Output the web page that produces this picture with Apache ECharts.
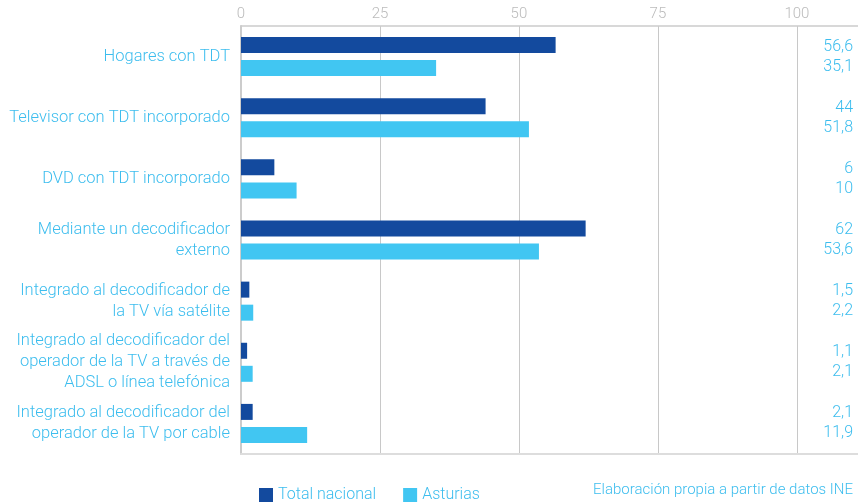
<!DOCTYPE html>
<html>
<head>
<meta charset="utf-8">
<script src="https://cdn.jsdelivr.net/npm/echarts@6/dist/echarts.min.js"></script>
<style>
  html, body { margin: 0; padding: 0; background: #fff; }
  #chart { width: 858px; height: 504px; }
</style>
</head>
<body>
<div id="chart"></div>
<script>
var categories = [
  'Hogares con TDT',
  'Televisor con TDT incorporado',
  'DVD con TDT incorporado',
  'Mediante un decodificador\nexterno',
  'Integrado al decodificador de\nla TV vía satélite',
  'Integrado al decodificador del\noperador de la TV a través de\nADSL o línea telefónica',
  'Integrado al decodificador del\noperador de la TV por cable'
];
var totalNacional = [56.6, 44, 6, 62, 1.5, 1.1, 2.1];
var asturias = [35.1, 51.8, 10, 53.6, 2.2, 2.1, 11.9];
var xTicks = [0, 25, 50, 75, 100];

var darkBlue = '#134a9e';
var lightBlue = '#41c6f2';
var textBlue = '#3cbdee';
var font = 'Roboto, sans-serif';

function fmt(v) {
  return String(v).replace('.', ',');
}
var valueLabels = categories.map(function (c, i) {
  return fmt(totalNacional[i]) + '\n' + fmt(asturias[i]);
});

var chart = echarts.init(document.getElementById('chart'));
var option = {
  animation: false,
  grid: { left: 241, right: 0, top: 26, bottom: 50, outerBoundsMode: 'none' },
  legend: {
    left: 254,
    top: 482,
    itemWidth: 14,
    itemHeight: 14,
    itemGap: 27,
    icon: 'rect',
    textStyle: { color: textBlue, fontSize: 16, fontWeight: 300, fontFamily: font },
    data: ['Total nacional', 'Asturias']
  },
  graphic: [{
    type: 'text',
    right: 5,
    top: 483,
    style: {
      text: 'Elaboración propia a partir de datos INE',
      fill: textBlue,
      fontSize: 15,
      fontWeight: 300,
      fontFamily: font
    }
  }],
  xAxis: [{
    type: 'value',
    position: 'top',
    min: 0,
    max: 111,
    interval: 25,
    axisLine: { show: true, lineStyle: { color: '#cccccc', width: 1.5 } },
    axisTick: { show: false },
    axisLabel: {
      color: '#bbbbbb',
      fontSize: 15,
      fontWeight: 300,
      fontFamily: font,
      margin: 4,
      formatter: function (v) { return xTicks.indexOf(v) >= 0 ? v : ''; }
    },
    splitLine: { show: true, lineStyle: { color: '#c8c8c8', width: 1 } }
  }, {
    type: 'value',
    position: 'bottom',
    min: 0,
    max: 111,
    axisLine: { show: true, lineStyle: { color: '#dddddd', width: 2 } },
    axisTick: { show: false },
    axisLabel: { show: false },
    splitLine: { show: false }
  }],
  yAxis: [{
    type: 'category',
    inverse: true,
    data: categories,
    axisLine: { show: true, lineStyle: { color: '#cccccc', width: 2 } },
    axisTick: { show: false },
    axisLabel: {
      color: textBlue,
      fontSize: 16.5,
      fontWeight: 300,
      lineHeight: 21,
      fontFamily: font,
      margin: 11,
      align: 'right'
    }
  }, {
    type: 'category',
    inverse: true,
    position: 'right',
    data: valueLabels,
    axisLine: { show: false },
    axisTick: { show: false },
    axisLabel: {
      inside: true,
      color: textBlue,
      fontSize: 16,
      fontWeight: 300,
      lineHeight: 20,
      fontFamily: font,
      margin: 5,
      align: 'right'
    }
  }],
  series: [{
    name: 'Total nacional',
    type: 'bar',
    data: totalNacional,
    barWidth: 16,
    barGap: '44%',
    itemStyle: { color: darkBlue }
  }, {
    name: 'Asturias',
    type: 'bar',
    data: asturias,
    barWidth: 16,
    barGap: '44%',
    itemStyle: { color: lightBlue }
  }]
};
chart.setOption(option);
</script>
</body>
</html>
